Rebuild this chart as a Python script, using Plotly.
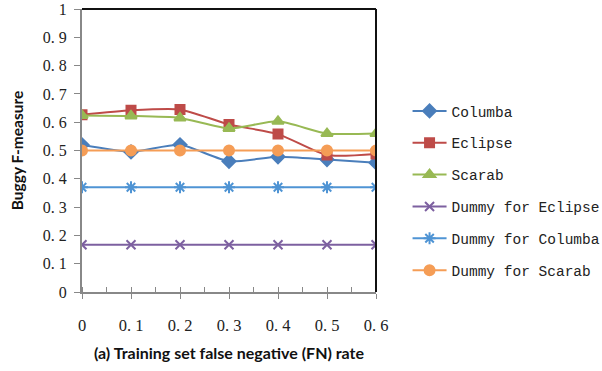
import plotly.graph_objects as go

fn_rate = [0, 0.1, 0.2, 0.3, 0.4, 0.5, 0.6]
x_tick_labels = ["0", "0. 1", "0. 2", "0. 3", "0. 4", "0. 5", "0. 6"]
y_tick_vals = [0, 0.1, 0.2, 0.3, 0.4, 0.5, 0.6, 0.7, 0.8, 0.9, 1]
y_tick_labels = ["0", "0. 1", "0. 2", "0. 3", "0. 4", "0. 5", "0. 6", "0. 7", "0. 8", "0. 9", "1"]

columba = [0.52, 0.495, 0.52, 0.462, 0.478, 0.468, 0.457]
eclipse = [0.626, 0.642, 0.645, 0.592, 0.558, 0.484, 0.488]
scarab = [0.624, 0.622, 0.615, 0.578, 0.603, 0.56, 0.56]
dummy_eclipse = [0.167] * 7
dummy_columba = [0.37] * 7
dummy_scarab = [0.5] * 7

series = [
    ("Columba", columba, "#4A7EBB", "diamond", 10),
    ("Eclipse", eclipse, "#BE4B48", "square", 9),
    ("Scarab", scarab, "#98B954", "triangle-up", 10),
    ("Dummy for Eclipse", dummy_eclipse, "#7D60A0", "x-thin-open", 9),
    ("Dummy for Columba", dummy_columba, "#4F94D4", "asterisk-open", 10),
    ("Dummy for Scarab", dummy_scarab, "#F59D56", "circle", 10),
]

fig = go.Figure()
for i, (name, vals, color, sym, size) in enumerate(series):
    fig.add_trace(go.Scatter(
        x=fn_rate, y=vals, name=name, mode="lines+markers",
        line=dict(color=color, width=2, shape="spline", smoothing=0.6),
        marker=dict(symbol=sym, size=size, color=color,
                    line=dict(color=color, width=2)),
        legendgroup=f"g{i}",
    ))

fig.update_layout(
    width=602, height=371,
    margin=dict(l=82, r=226, t=9, b=78.5),
    plot_bgcolor="white", paper_bgcolor="white",
    showlegend=True,
    legend=dict(
        xref="container", yref="container",
        x=0.677, xanchor="left", y=0.494, yanchor="middle",
        font=dict(family="Liberation Mono", size=14.5, color="#222"),
        tracegroupgap=10, itemwidth=34,
        bgcolor="rgba(0,0,0,0)",
    ),
    xaxis=dict(
        range=[0, 0.6], tickvals=fn_rate, ticktext=x_tick_labels,
        showgrid=False, zeroline=False, automargin=False,
        showline=True, linecolor="#888", linewidth=2,
        ticks="outside", ticklen=5, tickcolor="#888", tickwidth=1,
        minor=dict(dtick=0.05, ticks="inside", ticklen=5, tickcolor="#888", tickwidth=1),
        tickfont=dict(family="Liberation Serif", size=16.5, color="#222"),
        ticklabelstandoff=12,
        title=dict(text="(a) Training set false negative (FN) rate",
                   font=dict(family="Lato", size=16, color="#111", weight="bold"),
                   standoff=14),
    ),
    yaxis=dict(
        range=[0, 1], tickvals=y_tick_vals, ticktext=y_tick_labels,
        showgrid=False, zeroline=False, automargin=False,
        showline=True, linecolor="#888", linewidth=2,
        ticks="outside", ticklen=6, tickcolor="#888", tickwidth=1,
        tickfont=dict(family="Liberation Serif", size=16, color="#222"),
        ticklabelstandoff=4,
        title=dict(text="Buggy F-measure",
                   font=dict(family="Lato", size=15.5, color="#111", weight="bold"),
                   standoff=15),
    ),
    shapes=[
        dict(type="line", xref="x domain", yref="y domain", x0=0, x1=1, y0=1, y1=1,
             line=dict(color="#111", width=2)),
        dict(type="line", xref="x domain", yref="y domain", x0=1, x1=1, y0=0, y1=1,
             line=dict(color="#111", width=2)),
    ],
)

fig.write_html("out.html")
